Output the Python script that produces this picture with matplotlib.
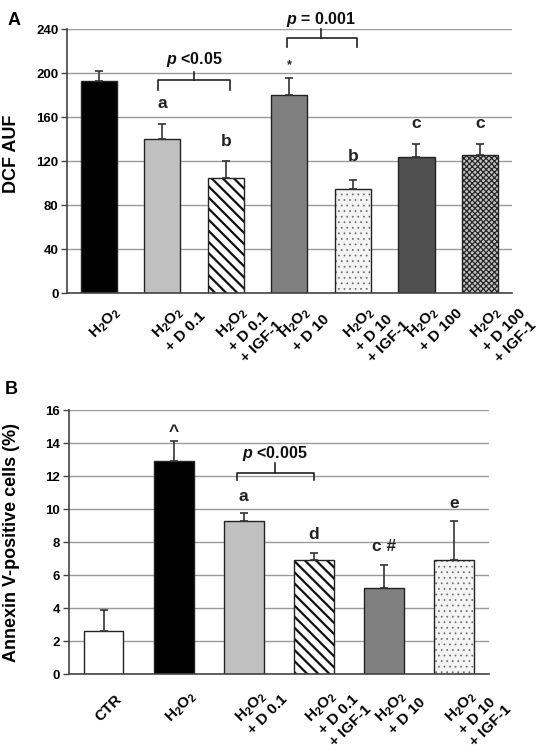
import matplotlib
matplotlib.use("Agg")
import matplotlib.pyplot as plt
import numpy as np

plt.rcParams['font.family'] = ['Liberation Sans', 'DejaVu Sans']
plt.rcParams['font.weight'] = 'bold'
plt.rcParams['mathtext.fontset'] = 'custom'
plt.rcParams['mathtext.rm'] = 'Liberation Sans:bold'
plt.rcParams['mathtext.bf'] = 'Liberation Sans:bold'
plt.rcParams['mathtext.it'] = 'Liberation Sans:bold:italic'
plt.rcParams['hatch.linewidth'] = 1.6

# ---------------- data ----------------
labels_a = ["H$_2$O$_2$", "H$_2$O$_2$\n+ D 0.1", "H$_2$O$_2$\n+ D 0.1\n+ IGF-1",
            "H$_2$O$_2$\n+ D 10", "H$_2$O$_2$\n+ D 10\n+ IGF-1",
            "H$_2$O$_2$\n+ D 100", "H$_2$O$_2$\n+ D 100\n+ IGF-1"]
values_a = [193, 140, 105, 180, 95, 124, 126]
errors_a = [9, 14, 15, 16, 8, 12, 10]
letters_a = ["", "a", "b", "*", "b", "c", "c"]
letter_y_a = [0, 168, 134, 205, 120, 150, 150]
yticks_a = [0, 40, 80, 120, 160, 200, 240]

labels_b = ["CTR", "H$_2$O$_2$", "H$_2$O$_2$\n+ D 0.1", "H$_2$O$_2$\n+ D 0.1\n+ IGF-1",
            "H$_2$O$_2$\n+ D 10", "H$_2$O$_2$\n+ D 10\n+ IGF-1"]
values_b = [2.6, 12.9, 9.3, 6.9, 5.2, 6.9]
errors_b = [1.3, 1.2, 0.45, 0.45, 1.4, 2.35]
letters_b = ["", "^", "a", "d", "c #", "e"]
letter_y_b = [0, 14.45, 10.5, 8.17, 7.43, 10.05]
yticks_b = [0, 2, 4, 6, 8, 10, 12, 14, 16]

# brackets: (x_left, x_right, x_mid, y_end, y_line, y_tick, text, y_text)
brackets_a = [(0.94, 2.06, 1.5, 184.6, 193.7, 201, "$p$ <0.05", 208.8),
              (2.97, 4.07, 3.5, 224, 232, 240.5, "$p$ = 0.001", 244.5)]
brackets_b = [(1.91, 3.0, 2.45, 11.76, 12.2, 12.77, "$p$ <0.005", 13.1)]

# ---------------- styles ----------------
style_a = [dict(color="#000000", hatch=None, hc=None, hlw=None),
           dict(color="#c0c0c0", hatch=None, hc=None, hlw=None),
           dict(color="#ffffff", hatch="\\\\\\", hc="#111111", hlw=1.6),
           dict(color="#808080", hatch=None, hc=None, hlw=None),
           dict(color="#f4f4f4", hatch="...", hc="#666666", hlw=0.5),
           dict(color="#505050", hatch=None, hc=None, hlw=None),
           dict(color="#c4c4c4", hatch="xxxxxx", hc="#262626", hlw=0.9)]
style_b = [dict(color="#ffffff", hatch=None, hc=None, hlw=None),
           dict(color="#000000", hatch=None, hc=None, hlw=None),
           dict(color="#c0c0c0", hatch=None, hc=None, hlw=None),
           dict(color="#ffffff", hatch="\\\\\\", hc="#111111", hlw=1.6),
           dict(color="#808080", hatch=None, hc=None, hlw=None),
           dict(color="#f4f4f4", hatch="...", hc="#666666", hlw=0.5)]

fig = plt.figure(figsize=(5.48, 7.5), dpi=100)
ax_a = fig.add_axes([0.122, 0.609, 0.812, 0.352])
ax_b = fig.add_axes([0.125, 0.1013, 0.767, 0.352])


def draw_panel(ax, labels, values, errors, styles, letters, letter_y, yticks,
               brackets, ylabel, label_dx, label_dy, ylab_x, ylab_y):
    n = len(values)
    x = np.arange(n)
    ax.set_axisbelow(True)
    ax.yaxis.grid(True, color="#9a9a9a", linewidth=1.0)
    for i in range(n):
        st = styles[i]
        if st["hatch"]:
            with plt.rc_context({"hatch.linewidth": st["hlw"]}):
                bc = ax.bar(x[i], values[i], width=0.57, color=st["color"],
                            hatch=st["hatch"], edgecolor=st["hc"],
                            linewidth=0, zorder=2)
                for p in bc.patches:
                    if hasattr(p, "set_hatch_linewidth"):
                        p.set_hatch_linewidth(st["hlw"])
            ax.bar(x[i], values[i], width=0.57, fill=False,
                   edgecolor="#222222", linewidth=1.0, zorder=2.5)
        else:
            ax.bar(x[i], values[i], width=0.57, color=st["color"],
                   edgecolor="#222222", linewidth=1.0, zorder=2)
    ax.errorbar(x, values, yerr=[np.zeros(n), errors], fmt="none",
                ecolor="#333333", elinewidth=1.2, capsize=3, capthick=1.2,
                zorder=3)
    for i in range(n):
        if letters[i]:
            fs = 9 if letters[i] == "*" else 12.5
            ax.text(x[i], letter_y[i], letters[i], ha="center", va="baseline",
                    fontsize=fs, fontweight="bold", color="#222222")
    for (x0, x1, xm, ye, yl, yt, txt, ytx) in brackets:
        ax.plot([x0, x0, x1, x1], [ye, yl, yl, ye], color="#222222", lw=1.2,
                clip_on=False, zorder=4)
        ax.plot([xm, xm], [yl, yt], color="#222222", lw=1.2, clip_on=False,
                zorder=4)
        ax.text(xm, ytx, txt, ha="center", va="baseline", fontsize=11.5,
                color="#111111", clip_on=False)
    ax.set_xlim(-0.5, n - 0.5)
    ax.set_ylim(yticks[0], yticks[-1])
    ax.set_yticks(yticks)
    ax.tick_params(axis="y", direction="out", length=4, width=1,
                   color="#444444", labelsize=9.5, pad=2)
    ax.set_xticks(x)
    ax.set_xticklabels([])
    ax.tick_params(axis="x", length=0)
    for i in range(n):
        ax.annotate(labels[i], xy=(x[i], 0), xycoords=ax.get_xaxis_transform(),
                    xytext=(label_dx, label_dy), textcoords="offset points",
                    rotation=45, rotation_mode="anchor", ha="left", va="top",
                    fontsize=11, fontweight="bold", multialignment="left",
                    linespacing=1.2, annotation_clip=False)
    for s in ["top", "right"]:
        ax.spines[s].set_visible(False)
    for s in ["left", "bottom"]:
        ax.spines[s].set_color("#444444")
        ax.spines[s].set_linewidth(1.2)
    ax.set_ylabel(ylabel, fontsize=13, fontweight="bold")
    ax.yaxis.set_label_coords(ylab_x, ylab_y)


draw_panel(ax_a, labels_a, values_a, errors_a, style_a, letters_a, letter_y_a,
           yticks_a, brackets_a, "DCF AUF", -9.0, -27.0, -0.106, 0.53)
draw_panel(ax_b, labels_b, values_b, errors_b, style_b, letters_b, letter_y_b,
           yticks_b, brackets_b, "Annexin V-positive cells (%)", -8.0, -29.0,
           -0.115, 0.5)

fig.text(0.013, 0.973, "A", fontsize=13, fontweight="bold", ha="left", va="center")
fig.text(0.009, 0.481, "B", fontsize=13, fontweight="bold", ha="left", va="center")

fig.savefig("out.png", dpi=100)
